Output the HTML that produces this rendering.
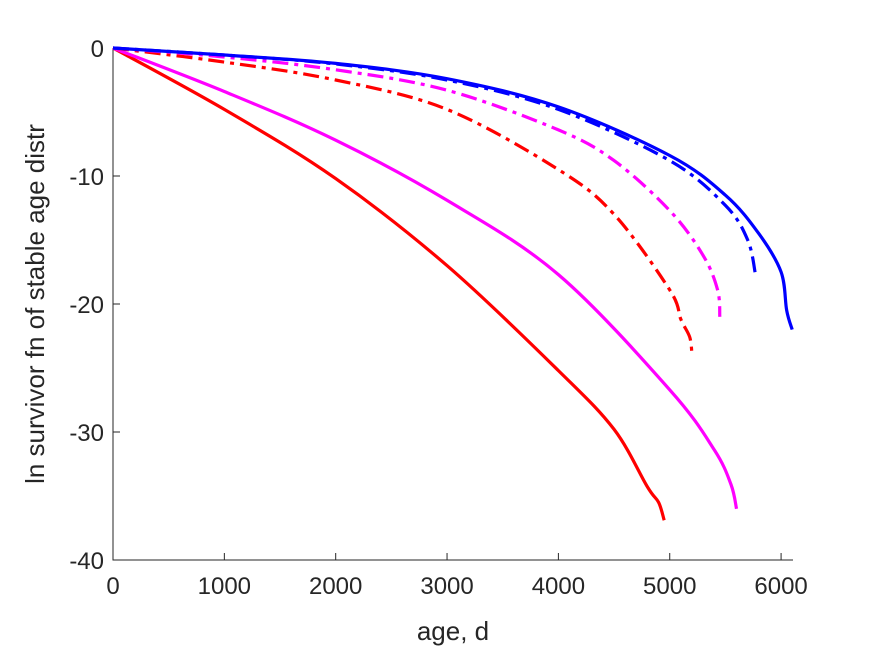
<!DOCTYPE html>
<html><head><meta charset="utf-8"><style>
body{margin:0;background:#fff;}
svg text{font-family:"Liberation Sans",Arial,sans-serif;fill:#262626;}
</style></head><body>
<svg id="chart" width="875" height="656" xmlns="http://www.w3.org/2000/svg">
<rect width="875" height="656" fill="#fff"/>
<g id="axes"></g>
<g id="series"></g>
<text x="453" y="640" font-size="26" text-anchor="middle">age, d</text>
<text transform="translate(44,304) rotate(-90)" font-size="26" text-anchor="middle">ln survivor fn of stable age distr</text>
</svg>
<script>
const xTicks=[0,1000,2000,3000,4000,5000,6000];
const yTicks=[0,-10,-20,-30,-40];
const redSolidX=[0,1000,2000,3000,4000,4500,4800,4900,4950];
const redSolidY=[0,-4.8,-10.2,-17,-25.2,-29.8,-34.3,-35.5,-36.9];
const magSolidX=[0,1000,2000,3000,4000,5000,5400,5550,5600];
const magSolidY=[0,-3.4,-7.2,-11.9,-17.7,-26.7,-31.4,-34.1,-36];
const redDashX=[0,1000,2000,3000,4000,4500,5000,5100,5180,5200];
const redDashY=[0,-1.1,-2.5,-4.8,-9.5,-13,-18.9,-21.2,-22.6,-24];
const magDashX=[0,1000,2000,3000,4000,4500,5000,5300,5430,5450];
const magDashY=[0,-0.7,-1.7,-3.3,-6.4,-8.8,-12.7,-16.2,-18.9,-21];
const blueDashX=[0,1000,2000,3000,4000,5000,5500,5700,5770];
const blueDashY=[0,-0.55,-1.25,-2.5,-4.8,-8.8,-12.3,-15,-17.7];
const blueSolidX=[0,1000,2000,3000,4000,5000,5500,5800,6000,6050,6100];
const blueSolidY=[0,-0.55,-1.2,-2.4,-4.6,-8.4,-11.5,-14.5,-17.5,-20.5,-22];
const L=113,R=793,T=48,B=560,xMax=6107;
const sx=v=>L+v/xMax*(R-L);
const sy=v=>T+(0-v)/40*(B-T);
const NS="http://www.w3.org/2000/svg";
const ax=document.getElementById('axes');
function mk(t,a,p){const e=document.createElementNS(NS,t);for(const k in a)e.setAttribute(k,a[k]);p.appendChild(e);return e;}
const frame=mk('path',{d:`M${L},${T}V${B}H${R}`,fill:'none',stroke:'#262626','stroke-width':1},ax);


xTicks.forEach(v=>{
 const t=mk('line',{x1:sx(v),x2:sx(v),y1:B,y2:B-7,stroke:'#262626'},ax);
 
 
 const l=mk('text',{x:sx(v),y:B+34,'font-size':24,'text-anchor':'middle'},ax);l.textContent=v;
 
 
});
yTicks.forEach(v=>{
 const t=mk('line',{x1:L,x2:L+7,y1:sy(v),y2:sy(v),stroke:'#262626'},ax);
 
 
 const l=mk('text',{x:L-9,y:sy(v)+9,'font-size':24,'text-anchor':'end'},ax);l.textContent=v;
 
 
});
const sg=document.getElementById('series');
function smooth(pts){
 let d='M'+pts[0][0].toFixed(1)+','+pts[0][1].toFixed(1);
 for(let i=0;i<pts.length-1;i++){
  const p0=pts[i-1]||pts[i],p1=pts[i],p2=pts[i+1],p3=pts[i+2]||p2;
  const c1=[p1[0]+(p2[0]-p0[0])/6,p1[1]+(p2[1]-p0[1])/6];
  const c2=[p2[0]-(p3[0]-p1[0])/6,p2[1]-(p3[1]-p1[1])/6];
  d+=`C${c1[0].toFixed(1)},${c1[1].toFixed(1)} ${c2[0].toFixed(1)},${c2[1].toFixed(1)} ${p2[0].toFixed(1)},${p2[1].toFixed(1)}`;
 }
 return d;
}
function line(xs,ys,color,dash,name){
 const pts=xs.map((x,i)=>[sx(x),sy(ys[i])]);
 const p=mk('path',{d:smooth(pts),fill:'none',stroke:color,'stroke-width':3.2,'stroke-linejoin':'round'},sg);
 if(dash)p.setAttribute('stroke-dasharray','16,6,4,6');
 
 
}
line(redSolidX,redSolidY,'#ff0000',false,'red-solid-line');
line(magSolidX,magSolidY,'#ff00ff',false,'magenta-solid-line');
line(redDashX,redDashY,'#ff0000',true,'red-dashdot-line');
line(magDashX,magDashY,'#ff00ff',true,'magenta-dashdot-line');
line(blueDashX,blueDashY,'#0000ff',true,'blue-dashdot-line');
line(blueSolidX,blueSolidY,'#0000ff',false,'blue-solid-line');
</script>
</body></html>
